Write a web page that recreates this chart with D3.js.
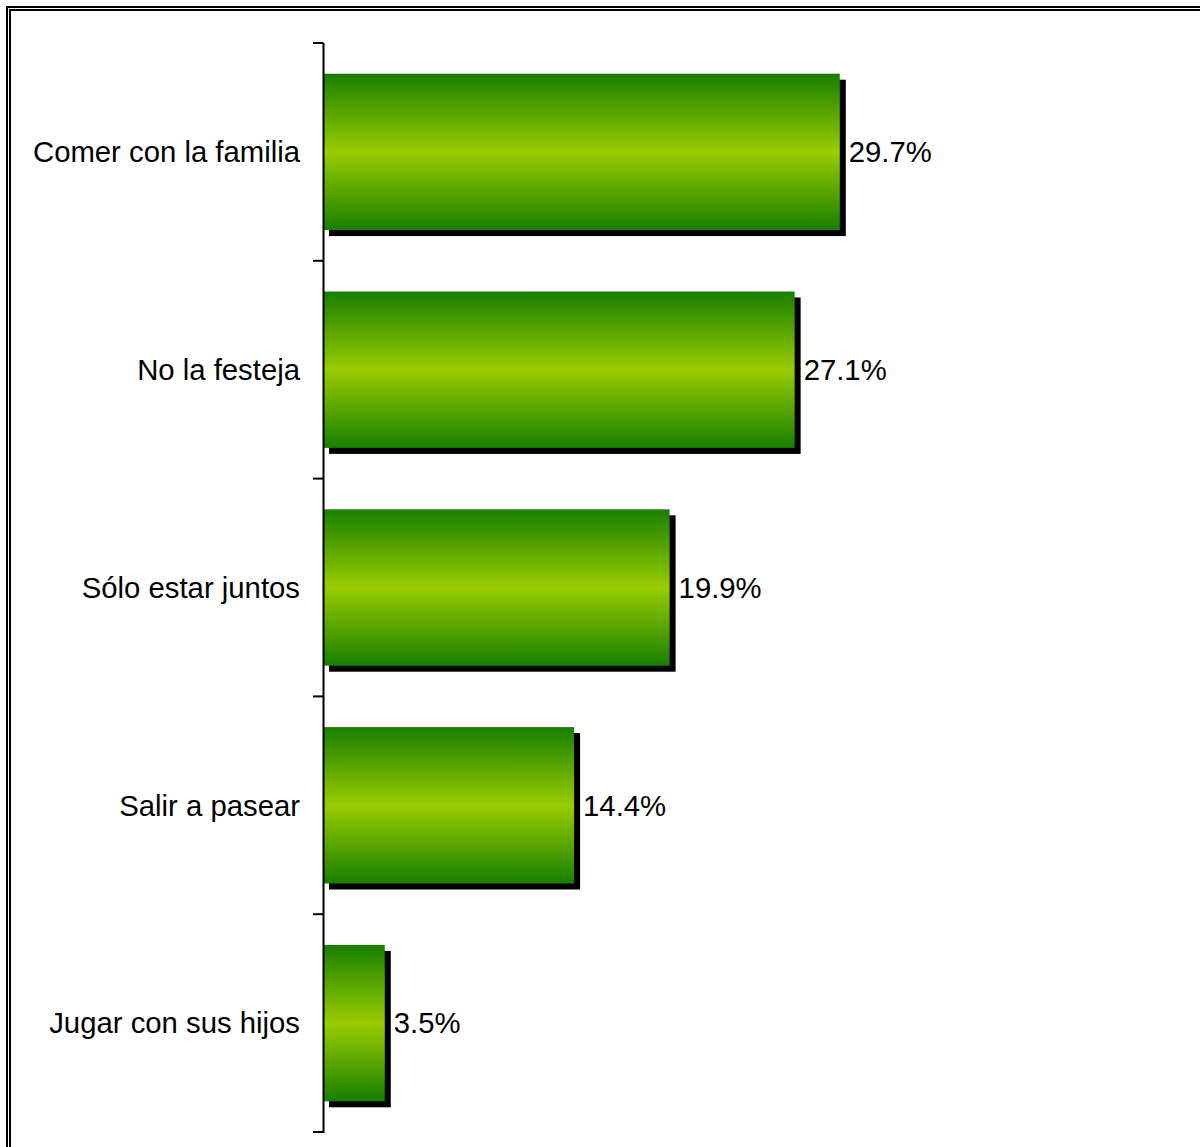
<!DOCTYPE html>
<html>
<head>
<meta charset="utf-8">
<script src="https://cdn.jsdelivr.net/npm/d3@7"></script>
<style>
html,body{margin:0;padding:0;background:#fff;}
svg{display:block;}
</style>
</head>
<body>
<svg id="chart" width="1200" height="1147"></svg>
<script>
const categories = ["Comer con la familia","No la festeja","Sólo estar juntos","Salir a pasear","Jugar con sus hijos"];
const values = [29.7, 27.1, 19.9, 14.4, 3.5];
const valueLabels = ["29.7%","27.1%","19.9%","14.4%","3.5%"];

const svg = d3.select("#chart");
const W = 1200, H = 1147;

// double border
svg.append("rect").attr("x",7).attr("y",7).attr("width",W+20).attr("height",H+20)
  .attr("fill","none").attr("stroke","#000").attr("stroke-width",2).attr("shape-rendering","crispEdges");
svg.append("rect").attr("x",10).attr("y",10).attr("width",W+20).attr("height",H+20)
  .attr("fill","none").attr("stroke","#000").attr("stroke-width",2).attr("shape-rendering","crispEdges");

const defs = svg.append("defs");
const grad = defs.append("linearGradient").attr("id","barGrad")
  .attr("x1","0").attr("y1","0").attr("x2","0").attr("y2","1");
grad.append("stop").attr("offset","0%").attr("stop-color","#187f00");
grad.append("stop").attr("offset","50%").attr("stop-color","#99cc00");
grad.append("stop").attr("offset","100%").attr("stop-color","#187f00");

const x0 = 324;
const x = d3.scaleLinear().domain([0, 30]).range([x0, x0 + 521]);
const y = d3.scaleBand().domain(categories).range([43, 1132]).paddingInner(0.282).paddingOuter(0.141);

const g = svg.append("g");
// shadows
g.selectAll("rect.shadow").data(values).enter().append("rect")
  .attr("class","shadow")
  .attr("x", (d,i)=> x(0) + 5)
  .attr("y", (d,i)=> y(categories[i]) + 6)
  .attr("width", d => x(d) - x(0) + 1)
  .attr("height", y.bandwidth())
  .attr("fill","#000");
// bars
g.selectAll("rect.bar").data(values).enter().append("rect")
  .attr("class","bar")
  .attr("x", x(0))
  .attr("y", (d,i)=> y(categories[i]))
  .attr("width", d => x(d) - x(0))
  .attr("height", y.bandwidth())
  .attr("fill","url(#barGrad)");

// value labels
g.selectAll("text.val").data(values).enter().append("text")
  .attr("class","val")
  .attr("x", d => x(d) + 9)
  .attr("y", (d,i)=> y(categories[i]) + y.bandwidth()/2)
  .attr("dy","0.35em")
  .attr("font-family","Liberation Sans, Arial, sans-serif")
  .attr("font-size","29.3px")
  .attr("fill","#000")
  .text((d,i)=> valueLabels[i]);

// axis line and ticks
const axisX = 323.5;
svg.append("line").attr("x1",axisX).attr("x2",axisX).attr("y1",43).attr("y2",1133)
  .attr("stroke","#000").attr("stroke-width",2);
const tickYs = d3.range(categories.length + 1).map(i => 43 + i * (1132-43)/categories.length);
svg.selectAll("line.tick").data(tickYs).enter().append("line")
  .attr("class","tick")
  .attr("x1",313).attr("x2",axisX).attr("y1",d=>d).attr("y2",d=>d)
  .attr("stroke","#000").attr("stroke-width",2);

// category labels
svg.selectAll("text.cat").data(categories).enter().append("text")
  .attr("class","cat")
  .attr("x", 300)
  .attr("y", d => y(d) + y.bandwidth()/2)
  .attr("dy","0.35em")
  .attr("text-anchor","end")
  .attr("font-family","Liberation Sans, Arial, sans-serif")
  .attr("font-size","29.3px")
  .attr("fill","#000")
  .text(d => d);
</script>
</body>
</html>
